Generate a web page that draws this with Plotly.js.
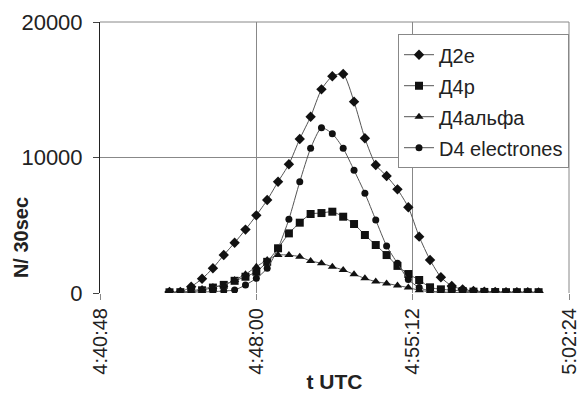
<!DOCTYPE html>
<html><head><meta charset="utf-8">
<script src="https://cdn.plot.ly/plotly-3.0.1.min.js"></script>
<style>html,body{margin:0;padding:0;background:#fff}</style>
</head><body><div id="chart" style="width:578px;height:396px"></div>
<script>
const times = ['04:44:00','04:44:30','04:45:00','04:45:30','04:46:00','04:46:30','04:47:00','04:47:30',
  '04:48:00','04:48:30','04:49:00','04:49:30','04:50:00','04:50:30','04:51:00','04:51:30',
  '04:52:00','04:52:30','04:53:00','04:53:30','04:54:00','04:54:30','04:55:00','04:55:30',
  '04:56:00','04:56:30','04:57:00','04:57:30','04:58:00','04:58:30','04:59:00','04:59:30',
  '05:00:00','05:00:30','05:01:00'];
const d2e = [70,70,470,1050,1830,2800,3710,4680,5730,6860,8210,9500,11370,13010,15030,16000,
  16160,14120,11420,9450,8630,7650,6330,4160,2440,1160,520,270,150,100,80,60,50,50,40];
const d4p = [50,60,100,200,400,600,900,1200,1570,2300,3300,4400,5190,5830,5900,6000,
  5630,5090,4280,3540,2800,2000,1400,960,420,270,220,150,100,80,70,60,60,60,60];
const d4alpha = [0,30,150,300,450,590,960,1380,1940,2440,2800,2800,2680,2360,2200,1940,
  1700,1380,1080,840,710,550,400,200,100,50,30,20,10,10,0,0,0,0,0];
const d4el = [30,40,60,80,100,150,220,590,1080,1820,3300,5440,8210,10680,12200,11760,
  10680,9060,7360,5390,3470,2190,1000,400,150,80,50,30,20,20,10,10,10,10,10];
const names = ['Д2е','Д4р','Д4альфа','D4 electrones'];
const yTicks = [0,10000,20000];
const xTickLabels = ['4:40:48','4:48:00','4:55:12','5:02:24'];
const yTitle = 'N/ 30sec';
const xTitle = 't UTC';

const day = '2000-01-01 ';
const xs = times.map(t => day + t);
const series = [d2e, d4p, d4alpha, d4el];
const symbols = ['diamond','square','triangle-up','circle'];
const sizes = [8,8,8,7];
const traces = series.map((ys,i) => ({
  x: xs, y: ys, name: names[i], type:'scatter', mode:'lines+markers',
  legendgroup: 'g'+i,
  line:{color:'#555', width:1, shape:'spline', smoothing:0.6},
  marker:{symbol:symbols[i], size:sizes[i], color:'#111'}
}));
const layout = {
  width:578, height:396,
  margin:{l:100, r:9, t:22, b:103},
  paper_bgcolor:'#fff', plot_bgcolor:'#fff',
  font:{family:'Liberation Sans, Arial, sans-serif', color:'#222', size:21},
  showlegend:true,
  legend:{x:1, y:0.955, xanchor:'right', yanchor:'top', bgcolor:'#fff',
    bordercolor:'#888', borderwidth:1, font:{size:20}, tracegroupgap:2, traceorder:'grouped'},
  shapes:[
    {type:'line', xref:'paper', yref:'paper', x0:0, x1:1, y0:1, y1:1, line:{color:'#888', width:1}},
    {type:'line', xref:'paper', yref:'paper', x0:1, x1:1, y0:0, y1:1, line:{color:'#888', width:1}}
  ],
  annotations:[
    {text:'<b>'+yTitle+'</b>', xref:'paper', yref:'paper', x:-0.167, y:0.205,
     xanchor:'center', yanchor:'middle', textangle:-90, showarrow:false, font:{size:20}}
  ],
  xaxis:{type:'date', range:[day+'04:40:48', day+'05:02:24'],
    tickmode:'array', tickvals:xTickLabels.map(t=>day+(t.length<8?'0'+t:t)), ticktext:xTickLabels,
    tickangle:-90, showgrid:true, gridcolor:'#888', gridwidth:1, ticklabeloverflow:'allow',
    ticks:'outside', ticklen:6, tickcolor:'#888', zeroline:false,
    showline:false, tickfont:{size:20},
    title:{text:'<b>'+xTitle+'</b>', font:{size:21}, standoff:0}},
  yaxis:{range:[0,20000], tickvals:yTicks, ticktext:yTicks.map(String), showgrid:true,
    gridcolor:'#888', gridwidth:1, ticks:'outside', ticklen:6, tickcolor:'#444',
    showline:true, linecolor:'#222', linewidth:1, zeroline:false, tickfont:{size:22},
    ticklabelstandoff:6}
};
Plotly.newPlot('chart', traces, layout, {displayModeBar:false, staticPlot:true});
</script></body></html>
